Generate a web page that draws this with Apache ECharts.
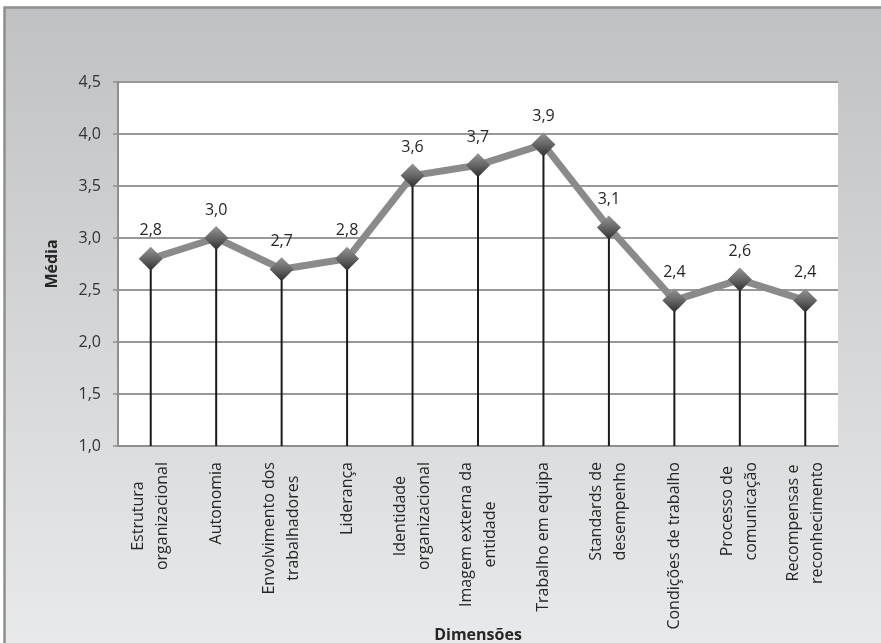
<!DOCTYPE html>
<html>
<head>
<meta charset="utf-8">
<script src="https://cdn.jsdelivr.net/npm/echarts@6/dist/echarts.min.js"></script>
<style>
  html, body { margin: 0; padding: 0; background: #fff; }
  #chart { width: 881px; height: 643px; }
</style>
</head>
<body>
<div id="chart"></div>
<script>
// Dimensions surveyed and the mean score for each
const categories = [
  'Estrutura\norganizacional',
  'Autonomia',
  'Envolvimento dos\ntrabalhadores',
  'Liderança',
  'Identidade\norganizacional',
  'Imagem externa da\nentidade',
  'Trabalho em equipa',
  'Standards de\ndesempenho',
  'Condições de trabalho',
  'Processo de\ncomunicação',
  'Recompensas e\nreconhecimento'
];
const means = [2.8, 3.0, 2.7, 2.8, 3.6, 3.7, 3.9, 3.1, 2.4, 2.6, 2.4];

const yMin = 1.0, yMax = 4.5, yStep = 0.5;
const yTitle = 'Média';
const xTitle = 'Dimensões';

const fontFamily = 'Open Sans, Lato, sans-serif';
const comma = v => Number(v).toFixed(1).replace('.', ',');

const chart = echarts.init(document.getElementById('chart'), null, { renderer: 'canvas' });

chart.setOption({
  animation: false,
  backgroundColor: '#ffffff',
  textStyle: { fontFamily },
  graphic: [
    {
      type: 'rect',
      z: -10,
      silent: true,
      shape: { x: 4.5, y: 7.5, width: 890, height: 650 },
      style: {
        fill: new echarts.graphic.LinearGradient(0, 0, 0, 1, [
          { offset: 0, color: '#c0c1c3' },
          { offset: 1, color: '#e9eaeb' }
        ]),
        stroke: '#8e8e8e',
        lineWidth: 2.5
      }
    }
  ],
  grid: {
    left: 118, top: 82, right: 43, bottom: 197,
    outerBoundsMode: 'none',
    containLabel: false,
    show: true, backgroundColor: '#ffffff', borderWidth: 0
  },
  xAxis: {
    type: 'category',
    data: categories,
    boundaryGap: true,
    name: xTitle,
    nameLocation: 'middle',
    nameGap: 181,
    nameMoveOverlap: false,
    nameTextStyle: { fontSize: 16, fontWeight: 'bold', color: '#262626', fontFamily },
    axisLine: { show: true, lineStyle: { color: '#8e8e8e', width: 2 } },
    axisTick: { show: false },
    axisLabel: {
      interval: 0,
      rotate: 90,
      margin: 16,
      color: '#262626',
      fontSize: 16,
      formatter: v => v.split('\n').map(s => '{c|' + s + '}').join('\n'),
      rich: { c: { align: 'center', fontSize: 16, lineHeight: 24, color: '#262626', fontFamily } }
    },
    splitLine: { show: false }
  },
  yAxis: {
    type: 'value',
    min: yMin, max: yMax, interval: yStep,
    name: yTitle,
    nameLocation: 'middle',
    nameGap: 58,
    nameMoveOverlap: false,
    nameTextStyle: { fontSize: 16, fontWeight: 'bold', color: '#262626', fontFamily },
    axisLine: { show: true, lineStyle: { color: '#8e8e8e', width: 2 } },
    axisTick: { show: true, length: 5, inside: false, lineStyle: { color: '#8e8e8e', width: 1.5 } },
    axisLabel: { color: '#333333', fontSize: 16, margin: 17, formatter: comma },
    splitLine: { show: true, lineStyle: { color: '#989898', width: 2 } }
  },
  series: [
    {
      // vertical drop lines from each point to the category axis
      type: 'bar',
      data: means,
      barWidth: 2,
      clip: true,
      itemStyle: { color: '#1a1a1a' },
      silent: true,
      z: 2
    },
    {
      type: 'line',
      data: means,
      symbol: 'diamond',
      symbolSize: 24,
      z: 3,
      lineStyle: { color: '#8a8a8a', width: 7 },
      itemStyle: {
        color: new echarts.graphic.LinearGradient(0, 0, 0, 1, [
          { offset: 0, color: '#959595' },
          { offset: 0.5, color: '#666666' },
          { offset: 1, color: '#2e2e2e' }
        ]),
        borderWidth: 0
      },
      label: {
        show: true,
        position: 'top',
        distance: 8,
        color: '#262626',
        fontSize: 16,
        fontFamily,
        formatter: p => comma(p.value)
      }
    }
  ]
});
</script>
</body>
</html>
